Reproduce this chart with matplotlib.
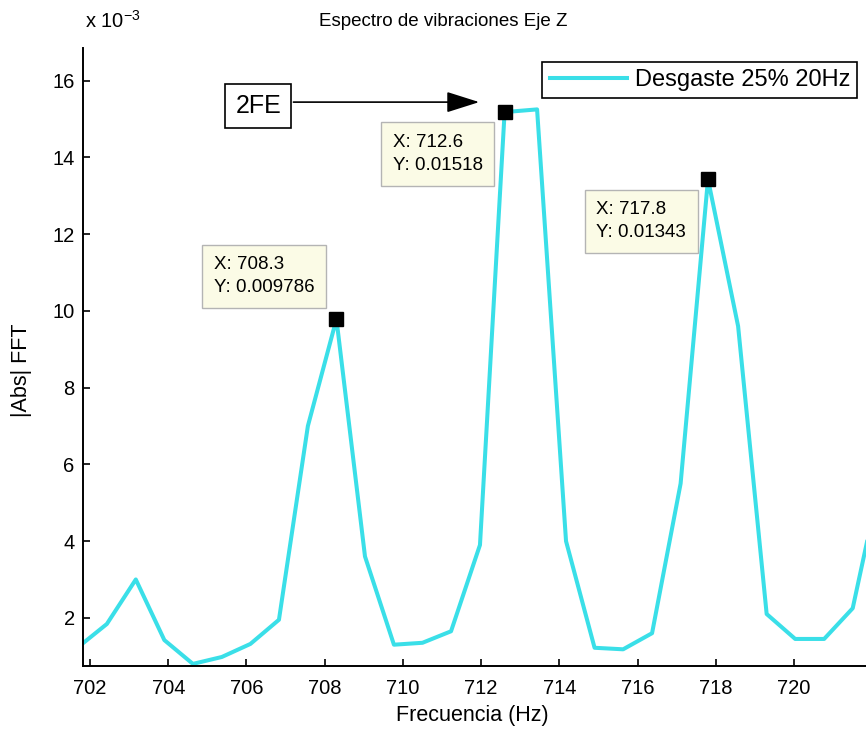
import numpy as np
import matplotlib.pyplot as plt

plt.rcParams['font.family'] = ['Liberation Sans', 'DejaVu Sans']

# spectrum (amplitude in units of 1e-3)
freq = [701.70, 702.43, 703.17, 703.90, 704.63, 705.37, 706.10, 706.83, 707.57,
        708.30, 709.03, 709.77, 710.50, 711.23, 711.97, 712.60, 713.43, 714.17,
        714.90, 715.63, 716.37, 717.10, 717.80, 718.57, 719.30, 720.03, 720.77,
        721.50, 722.23]
amp = [1.24, 1.84, 3.00, 1.42, 0.80, 0.98, 1.32, 1.95, 7.00,
       9.786, 3.60, 1.30, 1.35, 1.65, 3.90, 15.18, 15.25, 4.00,
       1.22, 1.18, 1.60, 5.50, 13.43, 9.60, 2.10, 1.45, 1.45,
       2.25, 5.70]

tip_x = [708.3, 712.6, 717.8]
tip_y = [9.786, 15.18, 13.43]
series_label = 'Desgaste 25% 20Hz'

line_color = '#3adfe8'
W, H = 866, 734

fig = plt.figure(figsize=(8.66, 7.34), dpi=100)
ax = fig.add_axes([83 / W, 68 / H, 783 / W, 618 / H])

ax.plot(freq, amp, color=line_color, lw=2.9, label=series_label, zorder=2,
        solid_joinstyle='round')
ax.plot(tip_x, tip_y, ls='none', marker='s', ms=10, color='black', zorder=3)

ax.set_xlim(701.82, 721.84)
ax.set_ylim(0.745, 16.85)
ax.set_xticks(np.arange(702, 721, 2))
ax.set_yticks(np.arange(2, 17, 2))
ax.tick_params(direction='in', length=5, width=1.2, labelsize=14.5)
ax.tick_params(axis='x', pad=9)
ax.tick_params(axis='y', pad=6)
for s in ['top', 'right']:
    ax.spines[s].set_visible(False)
for s in ['left', 'bottom']:
    ax.spines[s].set_linewidth(1.4)

fig.text(472 / W, 1 - 716 / H, 'Frecuencia (Hz)', ha='center', va='center',
         fontsize=15.5)
fig.text(22 / W, 1 - 370 / H, '|Abs| FFT', ha='center', va='center',
         rotation=90, fontsize=15.5)
fig.text(443 / W, 1 - 21 / H, 'Espectro de vibraciones Eje Z',
         ha='center', va='center', fontsize=13.5)
fig.text(85 / W, 1 - 21 / H, r'x 10$^{\mathregular{-3}}$',
         ha='left', va='center', fontsize=14.5)

# data tips
tip_offsets = [((-22, 23), 'right', 'bottom'),
               ((-22, -22), 'right', 'top'),
               ((-22, -22), 'right', 'top')]
for fx, fy, (off, ha, va) in zip(tip_x, tip_y, tip_offsets):
    ax.annotate(f'X: {fx}\nY: {fy * 1e-3:.4g}', xy=(fx, fy),
                xytext=off, textcoords='offset pixels', ha=ha, va=va,
                multialignment='left', fontsize=13.5, linespacing=1.45,
                bbox=dict(boxstyle='square,pad=0.62', fc='#fbfbe6',
                          ec='#b4b4b4', lw=1), zorder=4)

# 2FE label and arrow
ax.text(706.3, 15.33, '2FE', ha='center', va='center', fontsize=18,
        bbox=dict(boxstyle='square,pad=0.4', fc='white', ec='black', lw=1.2))
ax.annotate('', xy=(711.95, 15.44), xytext=(707.2, 15.44),
            arrowprops=dict(arrowstyle='-|>,head_length=1.2,head_width=0.38',
                            color='black', lw=1.2, mutation_scale=17,
                            shrinkA=0, shrinkB=0))

leg = ax.legend(loc='upper right', bbox_to_anchor=(0.9885, 0.977),
                fontsize=17, handlelength=3.3, frameon=True, fancybox=False,
                edgecolor='black', framealpha=1, borderpad=0.3,
                handletextpad=0.3, borderaxespad=0)
leg.get_frame().set_linewidth(1.2)

fig.savefig('out.png', dpi=100)
